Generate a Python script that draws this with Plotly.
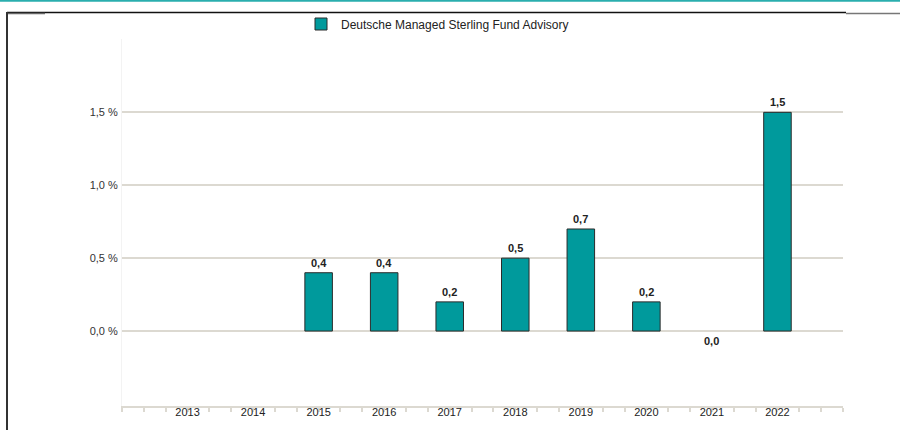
import plotly.graph_objects as go

years = ["2013", "2014", "2015", "2016", "2017", "2018", "2019", "2020", "2021", "2022"]
values = [None, None, 0.4, 0.4, 0.2, 0.5, 0.7, 0.2, 0.0, 1.5]
series_name = "Deutsche Managed Sterling Fund Advisory"
y_tickvals = [0.0, 0.5, 1.0, 1.5, 2.0]
y_ticktext = ["0,0 %", "0,5 %", "1,0 %", "1,5 %", ""]

BAR = "#009a9c"
GRID = "#dcd9d1"
FONT = "Arial, Liberation Sans, sans-serif"

x_idx = list(range(len(years)))
outline_w = [0 if v == 0 else 1 for v in values]

fig = go.Figure()
fig.add_trace(go.Bar(
    x=x_idx, y=values, name=series_name,
    marker=dict(color=BAR, line=dict(color="#2b2b2b", width=outline_w)),
    width=0.42, showlegend=True, hoverinfo="skip",
))

def fmt(v):
    return f"{v:.1f}".replace(".", ",")

annotations = []
for i, v in zip(x_idx, values):
    if v is None:
        continue
    annotations.append(dict(
        x=i, y=v, xref="x", yref="y", text=fmt(v), showarrow=False,
        yshift=10 if v > 0 else -10,
        font=dict(family=FONT, size=11, color="#222222", weight="bold"),
    ))

L, R, T, B = 122, 843, 39, 406
W, H = 900, 430
def px(x):
    return (x - L) / (R - L)
def py(y):
    return (B - y) / (B - T)

shapes = [
    dict(type="line", xref="paper", yref="paper", x0=px(0), x1=px(900), y0=py(0.8), y1=py(0.8),
         line=dict(color="#2aaeae", width=2)),
    dict(type="line", xref="paper", yref="paper", x0=px(7), x1=px(846), y0=py(12.5), y1=py(12.5),
         line=dict(color="#111111", width=1.5)),
    dict(type="line", xref="paper", yref="paper", x0=px(846), x1=px(900), y0=py(13.5), y1=py(13.5),
         line=dict(color="#777777", width=1.5)),
    dict(type="line", xref="paper", yref="paper", x0=px(7), x1=px(45), y0=py(13.5), y1=py(13.5),
         line=dict(color="#666666", width=1.5)),
    dict(type="line", xref="paper", yref="paper", x0=px(7), x1=px(7), y0=py(12), y1=py(430),
         line=dict(color="#333333", width=2)),
]

fig.update_layout(
    width=W, height=H,
    margin=dict(l=L, r=W - R, t=T, b=H - B, pad=0, autoexpand=False),
    paper_bgcolor="white", plot_bgcolor="white",
    font=dict(family=FONT, size=11, color="#333333"),
    showlegend=True,
    legend=dict(orientation="h", xref="container", yref="container",
                x=301 / W, y=1 - 24 / H, xanchor="left", yanchor="middle",
                font=dict(family=FONT, size=12, color="#222222"),
                bgcolor="rgba(0,0,0,0)", itemclick=False),
    annotations=annotations,
    shapes=shapes,
    xaxis=dict(
        range=[-1, 10], tickmode="array", tickvals=x_idx, ticktext=years,
        showgrid=False, zeroline=False, automargin=False,
        showline=True, linecolor=GRID, linewidth=2,
        ticks="", ticklabelstandoff=-5,
        tickfont=dict(family=FONT, size=11, color="#222222"),
        minor=dict(tick0=-1, dtick=1/3, ticks="outside", ticklen=4, tickcolor=GRID, tickwidth=1.5, showgrid=False),
        fixedrange=True,
    ),
    yaxis=dict(
        range=[-0.514, 2.003], tickmode="array", tickvals=y_tickvals, ticktext=y_ticktext,
        showgrid=True, gridcolor=GRID, gridwidth=1.5, zeroline=False, automargin=False,
        showline=True, linecolor="#f3f3f3", linewidth=1,
        ticks="", ticklabelstandoff=1,
        tickfont=dict(family=FONT, size=11, color="#333333"),
        fixedrange=True,
    ),
)

fig.write_html("out.html", post_script="document.body.style.margin='0';", config={"displayModeBar": False})
